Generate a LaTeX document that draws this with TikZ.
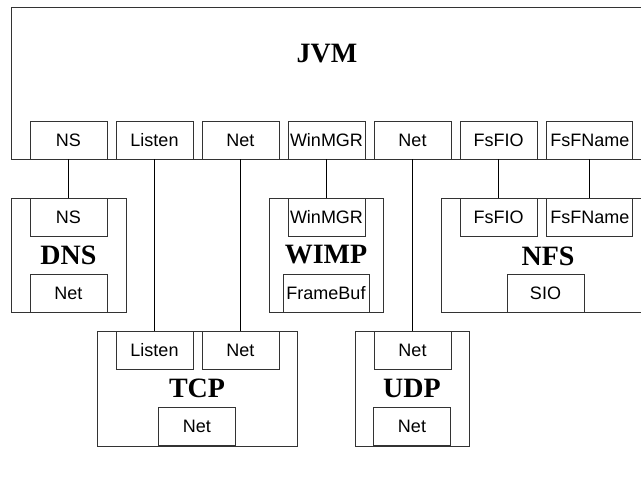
\documentclass[tikz,border=0pt]{standalone}
\usepackage{fontspec}
\newfontfamily\portfont{Liberation Sans}
\newfontfamily\titlefont{Liberation Serif}
\usetikzlibrary{positioning}

\begin{document}
\begin{tikzpicture}[x=1pt, y=-1pt, line join=miter,
  port/.style={draw=black!80, line width=0.8pt, inner sep=0pt,
    minimum width=77pt, minimum height=38pt,
    font={\portfont\fontsize{18}{20}\selectfont}},
  unit/.style={draw=black!80, line width=0.8pt, inner sep=0pt,
    font={\titlefont\bfseries\fontsize{28}{30}\selectfont}},
  title/.style={font={\titlefont\bfseries\fontsize{28}{30}\selectfont}},
  link/.style={line width=1.3pt, black}
]
\useasboundingbox (0,0) rectangle (641,481);
\clip (0,0) rectangle (641,481);

%--- JVM (runs off the right edge) ---
\draw[black!80, line width=0.8pt] (660,7) -- (11,7) -- (11,159) -- (660,159);
\node[title] (jvm) at (327,54) {JVM};

% exported ports along the bottom of the JVM
\node[port] (jNS) at (68.5,140) {NS};
\node[port, right=8.2pt of jNS] (jListen) {Listen};
\node[port, right=8.2pt of jListen] (jNet) {Net};
\node[port, right=8.2pt of jNet] (jWin) {WinMGR};
\node[port, right=8.2pt of jWin] (jNetU) {Net};
\node[port, right=8.2pt of jNetU] (jFIO) {FsFIO};
\node[port, minimum width=86pt, right=9pt of jFIO] (jFName) {FsFName};

%--- second row: DNS, WIMP, NFS ---
\node[unit, minimum width=115pt, minimum height=114pt] (dns) at (68.5,255) {DNS};
\node[port] (dNS) at (68.5,217) {NS};
\node[port] (dNet) at (68.5,293) {Net};

\node[unit, minimum width=114pt, minimum height=114pt] (wimp) at (326,255) {WIMP};
\node[port] (wWin) at (jWin |- dNS) {WinMGR};
\node[port, minimum width=86pt] (wBuf) at (326,293) {FrameBuf};

\draw[black!80, line width=0.8pt] (660,198) -- (441,198) -- (441,312) -- (660,312);
\node[title] (nfs) at (548,256) {NFS};
\node[port] (nFIO) at (jFIO |- dNS) {FsFIO};
\node[port, minimum width=86pt] (nFName) at (jFName |- dNS) {FsFName};
\node[port] (nSIO) at (545.5,293) {SIO};

%--- third row: TCP, UDP ---
\node[unit, minimum width=200pt, minimum height=115pt] (tcp) at (197,388.5) {TCP};
\node[port] (tListen) at (jListen |- 0,350) {Listen};
\node[port] (tNet) at (jNet |- 0,350) {Net};
\node[port] (tNetB) at (197,426.5) {Net};

\node[unit, minimum width=114pt, minimum height=115pt] (udp) at (412,388.5) {UDP};
\node[port] (uNet) at (jNetU |- 0,350) {Net};
\node[port] (uNetB) at (412,426.5) {Net};

%--- links ---
\draw[link] (jNS) -- (dNS);
\draw[link] (jListen) -- (tListen);
\draw[link] (jNet) -- (tNet);
\draw[link] (jWin) -- (wWin);
\draw[link] (jNetU) -- (uNet);
\draw[link] (jFIO) -- (nFIO);
\draw[link] (jFName) -- (nFName);

\end{tikzpicture}
\end{document}
